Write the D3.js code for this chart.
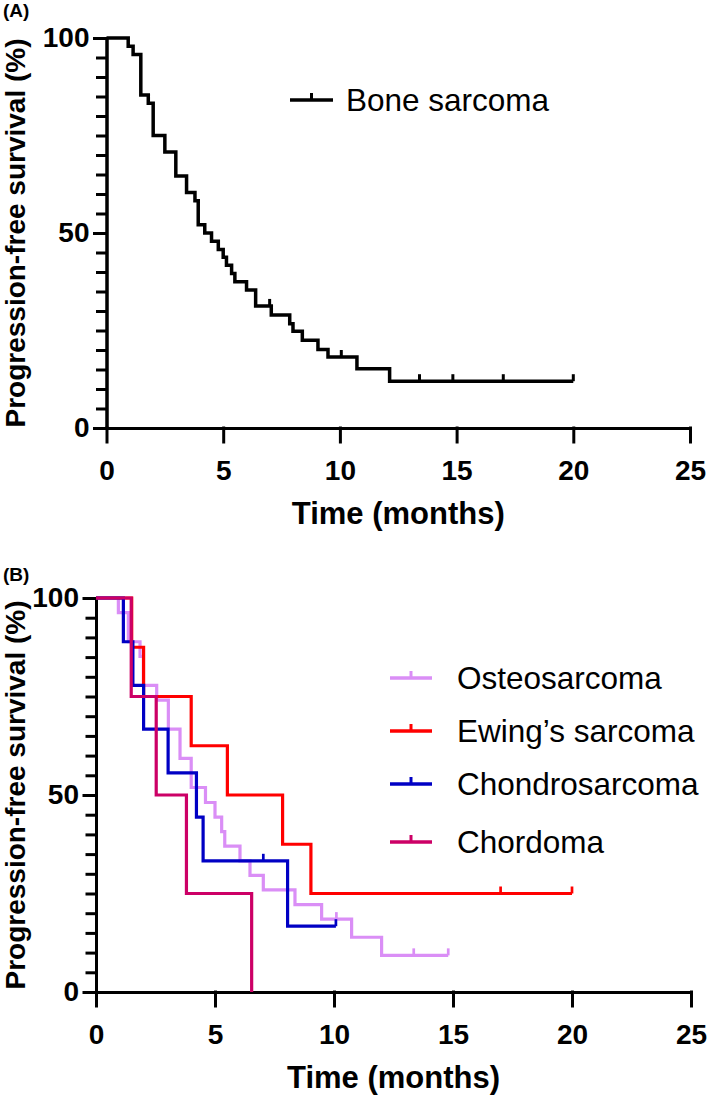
<!DOCTYPE html>
<html>
<head>
<meta charset="utf-8">
<script src="https://cdn.jsdelivr.net/npm/d3@7"></script>
<style>
  body { margin: 0; background: #fff; }
  svg { display: block; font-family: "Liberation Sans", Arial, sans-serif; }
  .axis path, .axis line { stroke: #000; stroke-width: 3px; stroke-linecap: square; }
  .axis text { font-size: 28px; font-weight: bold; fill: #000; font-family: "Liberation Sans", Arial, sans-serif; }
  .title { font-weight: bold; fill: #000; }
  .legend text { font-size: 31.5px; fill: #000; }
</style>
</head>
<body>
<svg width="709" height="1102"></svg>
<script>
const timeTicks = [0, 5, 10, 15, 20, 25];
const survTicks = [0, 50, 100];
const survMinorTicks = [0, 5, 10, 15, 20, 25, 30, 35, 40, 45, 50, 55, 60, 65, 70, 75, 80, 85, 90, 95, 100];

// (A) all bone sarcoma
const boneTime = [0, 0.93, 1.14, 1.47, 1.79, 2.0, 2.5, 2.97, 3.43, 3.79, 3.93, 4.21, 4.5, 4.79, 5.0, 5.14, 5.36, 5.5, 6.0, 6.39, 7.06, 7.85, 7.99, 8.39, 9.06, 9.49, 10.73, 12.13];
const boneSurv = [100, 97.9, 95.8, 85.4, 83.3, 75.0, 70.8, 64.6, 60.4, 58.3, 52.1, 50.0, 47.9, 45.8, 43.8, 41.7, 39.6, 37.5, 35.4, 31.3, 29.0, 26.7, 24.8, 22.5, 20.1, 18.2, 15.2, 12.0];
const boneCensor = [6.99, 10.06, 13.41, 14.84, 17.0, 20.0];
const boneEnd = 20.0;

// (B) by subtype
const osteoTime = [0, 0.94, 1.36, 1.85, 1.99, 2.55, 3.04, 3.53, 4.0, 4.6, 5.0, 5.28, 5.41, 6.05, 6.47, 7.03, 8.36, 9.48, 10.74, 12.0];
const osteoSurv = [100, 96.3, 88.9, 85.2, 77.8, 74.1, 66.7, 59.3, 51.9, 48.1, 44.4, 40.7, 37.0, 33.3, 29.6, 25.9, 22.2, 18.5, 13.9, 9.3];
const osteoCensor = [10.1, 13.35, 14.8];
const osteoEnd = 14.8;

const ewingTime = [0, 1.5, 2.0, 4.0, 5.52, 7.84, 9.03];
const ewingSurv = [100, 87.5, 75.0, 62.5, 50.0, 37.5, 25.0];
const ewingCensor = [17.0, 20.0];
const ewingEnd = 20.0;

const chondroTime = [0, 1.15, 1.55, 2.0, 3.03, 4.22, 4.5, 8.05];
const chondroSurv = [100, 88.9, 77.8, 66.7, 55.6, 44.4, 33.3, 16.7];
const chondroCensor = [7.03, 10.08];
const chondroEnd = 10.08;

const chordomaTime = [0, 1.48, 2.53, 3.8, 6.54];
const chordomaSurv = [100, 75.0, 50.0, 25.0, 0];
const chordomaCensor = [];
const chordomaEnd = 6.54;

const groupNames = ['Osteosarcoma', 'Ewing\u2019s sarcoma', 'Chondrosarcoma', 'Chordoma'];
const groupColors = ['#da8ef6', '#ff0000', '#0000c4', '#cc0066'];

const svg = d3.select('svg');

const survAt = (time, surv, t) => {
  let s = surv[0];
  time.forEach((tt, i) => { if (tt <= t) s = surv[i]; });
  return s;
};

function drawPanel(box, series, label, letterY) {
  const x = d3.scaleLinear().domain([0, 25]).range([box.left, box.right]);
  const y = d3.scaleLinear().domain([0, 100]).range([box.bottom, box.top]);
  const g = svg.append('g');

  g.append('g')
    .attr('class', 'axis')
    .attr('transform', `translate(${box.left},0)`)
    .call(d3.axisLeft(y).tickValues(survMinorTicks).tickSize(9).tickSizeOuter(0).tickFormat(''));

  g.append('g')
    .attr('class', 'axis')
    .attr('transform', `translate(${box.left},0)`)
    .call(d3.axisLeft(y).tickValues(survTicks).tickSize(12).tickSizeOuter(0).tickPadding(5));

  g.append('g')
    .attr('class', 'axis')
    .attr('transform', `translate(0,${box.bottom})`)
    .call(d3.axisBottom(x).tickValues(timeTicks).tickSize(14).tickSizeOuter(0).tickPadding(18));

  const line = d3.line()
    .x(d => x(d[0]))
    .y(d => y(d[1]))
    .curve(d3.curveStepAfter);

  series.forEach(s => {
    const pts = s.time.map((t, i) => [t, s.surv[i]]);
    if (s.end > s.time[s.time.length - 1]) pts.push([s.end, s.surv[s.surv.length - 1]]);
    g.append('path')
      .attr('d', line(pts))
      .attr('fill', 'none')
      .attr('stroke', s.color)
      .attr('stroke-width', s.width);
    g.selectAll(null)
      .data(s.censor)
      .enter()
      .append('line')
      .attr('x1', c => x(c))
      .attr('x2', c => x(c))
      .attr('y1', c => y(survAt(s.time, s.surv, c)))
      .attr('y2', c => y(survAt(s.time, s.surv, c)) - 7)
      .attr('stroke', s.color)
      .attr('stroke-width', s.width - 0.5);
  });

  svg.append('text')
    .attr('class', 'title')
    .attr('x', (box.left + box.right) / 2)
    .attr('y', box.bottom + 96)
    .attr('text-anchor', 'middle')
    .style('font-size', '31px')
    .text('Time (months)');

  svg.append('text')
    .attr('class', 'title')
    .attr('transform', `translate(25,${(box.top + box.bottom) / 2}) rotate(-90)`)
    .attr('text-anchor', 'middle')
    .style('font-size', '28px')
    .text('Progression-free survival (%)');

  svg.append('text')
    .attr('class', 'title')
    .attr('x', 3)
    .attr('y', letterY)
    .style('font-size', '19px')
    .text(label);
}

// panel A
drawPanel(
  {left: 106.5, right: 690, top: 38, bottom: 428},
  [{time: boneTime, surv: boneSurv, censor: boneCensor, end: boneEnd, color: '#000', width: 3.5}],
  '(A)', 17
);

const legendA = svg.append('g').attr('class', 'legend');
legendA.append('line')
  .attr('x1', 290).attr('x2', 333).attr('y1', 100).attr('y2', 100)
  .attr('stroke', '#000').attr('stroke-width', 3.5);
legendA.append('line')
  .attr('x1', 311.5).attr('x2', 311.5).attr('y1', 100).attr('y2', 93)
  .attr('stroke', '#000').attr('stroke-width', 3);
legendA.append('text')
  .attr('x', 346).attr('y', 111)
  .text('Bone sarcoma');

// panel B
const subtypes = [
  {time: osteoTime, surv: osteoSurv, censor: osteoCensor, end: osteoEnd},
  {time: ewingTime, surv: ewingSurv, censor: ewingCensor, end: ewingEnd},
  {time: chondroTime, surv: chondroSurv, censor: chondroCensor, end: chondroEnd},
  {time: chordomaTime, surv: chordomaSurv, censor: chordomaCensor, end: chordomaEnd}
].map((s, i) => ({...s, color: groupColors[i], width: 3.2}));

drawPanel({left: 96, right: 691, top: 598, bottom: 992}, subtypes, '(B)', 581);

const legendRows = [678, 731, 784, 842];
const legendB = svg.append('g').attr('class', 'legend');
groupNames.forEach((name, i) => {
  const ly = legendRows[i];
  legendB.append('line')
    .attr('x1', 390).attr('x2', 432).attr('y1', ly).attr('y2', ly)
    .attr('stroke', groupColors[i]).attr('stroke-width', 3.5);
  legendB.append('line')
    .attr('x1', 411).attr('x2', 411).attr('y1', ly).attr('y2', ly - 7)
    .attr('stroke', groupColors[i]).attr('stroke-width', 3);
  legendB.append('text')
    .attr('x', 457).attr('y', ly + 11)
    .text(name);
});
</script>
</body>
</html>
